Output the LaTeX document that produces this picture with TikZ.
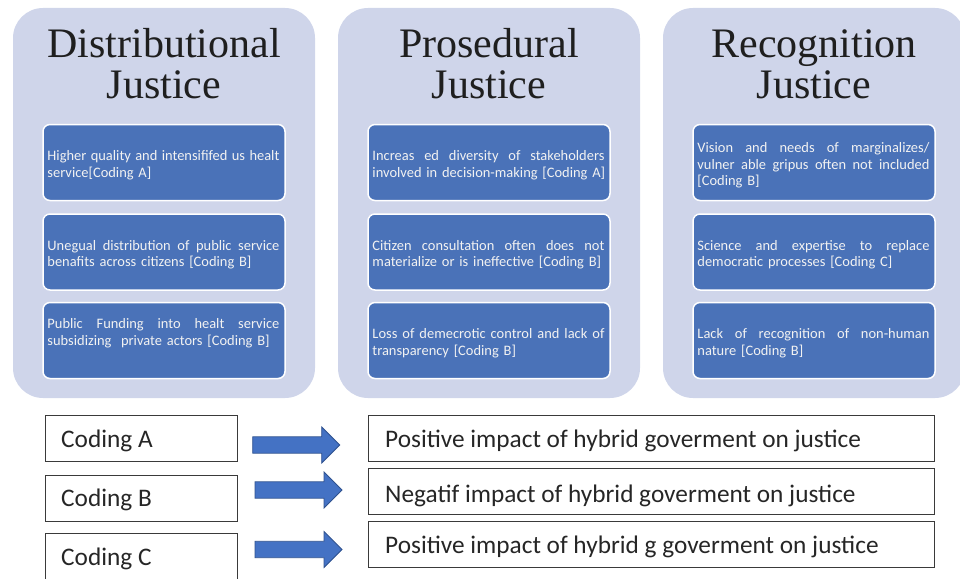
\documentclass[tikz,border=0pt]{standalone}
\usepackage{fontspec}
\setmainfont{Liberation Serif}
\newfontfamily\bodyfont{Carlito}
\definecolor{panelfill}{HTML}{CFD5EA}
\definecolor{itemfill}{HTML}{4A72B8}
\definecolor{arrowfill}{HTML}{4472C4}
\definecolor{arrowline}{HTML}{2F528F}
\definecolor{framegray}{HTML}{3A3A3A}
% a fully justified line inside an item text (ragged alignment fixes the
% interword space, so restore the font's stretchable space first)
\newcommand\jline[1]{\makebox[232pt][s]{\spaceskip=0pt\xspaceskip=0pt #1}}

\begin{document}
\begin{tikzpicture}[x=1pt,y=-1pt,
  panel/.style={fill=panelfill, rounded corners=30pt, minimum width=302pt,
    minimum height=390pt, inner sep=0},
  title/.style={anchor=base, inner sep=0, text=black!88,
    font=\fontsize{42}{42}\selectfont},
  item/.style={fill=itemfill, draw=white, line width=1.5pt, rounded corners=7pt,
    minimum width=242pt, minimum height=76pt, inner sep=0},
  itemtext/.style={anchor=north west, inner sep=0, text width=236pt, align=left,
    text=white!95!black, font=\bodyfont\fontsize{14.45}{16.5}\selectfont},
  codebox/.style={draw=framegray, line width=1pt, minimum width=192pt,
    minimum height=46pt, inner sep=0},
  impactbox/.style={draw=framegray, line width=1pt, minimum width=566pt,
    minimum height=46pt, inner sep=0},
  bigtext/.style={anchor=base west, inner sep=0, text=black!85,
    font=\bodyfont\fontsize{25.3}{30}\selectfont},
  blockarrow/.pic={\draw[fill=arrowfill, draw=arrowline, line width=0.8pt, line join=miter]
    (0,-8.2) -- (69,-8.2) -- (69,-18) -- (87,0) -- (69,18) -- (69,8.2) -- (0,8.2) -- cycle;}
]
\useasboundingbox (0,0) rectangle (960,578);
\clip (0,0) rectangle (960,578);

% ---------- three justice panels ----------
\node[panel] (p1) at (164,203) {};
\node[panel] (p2) at (489,203) {};
\node[panel] (p3) at (814,203) {};

\node[title] (t1a) at (164,57) {Distributional};
\node[title] (t1b) at (164,98) {Justice};
\node[title] (t2a) at (489,57) {Prosedural};
\node[title] (t2b) at (489,98) {Justice};
\node[title] (t3a) at (814,57) {Recognition};
\node[title] (t3b) at (814,98) {Justice};

% ---------- items of the distributional panel ----------
\node[item] (b11) at (164,162.5) {};
\node[item] (b12) at (164,252) {};
\node[item] (b13) at (164,340.5) {};
\node[itemtext] (x11) at ([xshift=5pt,yshift=-25pt]b11.north west)
  {\jline{\strut Higher quality and intensififed us healt}\\ service[Coding A]};
\node[itemtext] (x12) at ([xshift=5pt,yshift=-25pt]b12.north west)
  {\jline{\strut Unegual distribution of public service}\\ benafits across citizens [Coding B]};
\node[itemtext] (x13) at ([xshift=5pt,yshift=-15pt]b13.north west)
  {\jline{\strut Public Funding into healt service}\\ subsidizing\ \ private actors [Coding B]};

% ---------- items of the procedural panel ----------
\node[item] (b21) at (489,162.5) {};
\node[item] (b22) at (489,252) {};
\node[item] (b23) at (489,340.5) {};
\node[itemtext] (x21) at ([xshift=5pt,yshift=-25pt]b21.north west)
  {\jline{\strut Increas ed diversity of stakeholders}\\ involved in decision-making [Coding A]};
\node[itemtext] (x22) at ([xshift=5pt,yshift=-25pt]b22.north west)
  {\jline{\strut Citizen consultation often does not}\\ materialize or is ineffective [Coding B]};
\node[itemtext] (x23) at ([xshift=5pt,yshift=-25pt]b23.north west)
  {\jline{\strut Loss of demecrotic control and lack of}\\ transparency [Coding B]};

% ---------- items of the recognition panel ----------
\node[item] (b31) at (814,162.5) {};
\node[item] (b32) at (814,252) {};
\node[item] (b33) at (814,340.5) {};
\node[itemtext] (x31) at ([xshift=5pt,yshift=-17pt]b31.north west)
  {\jline{\strut Vision and needs of marginalizes/}\\
   \jline{vulner able gripus often not included}\\{}[Coding B]};
\node[itemtext] (x32) at ([xshift=5pt,yshift=-25pt]b32.north west)
  {\jline{\strut Science and expertise to replace}\\ democratic processes [Coding C]};
\node[itemtext] (x33) at ([xshift=5pt,yshift=-25pt]b33.north west)
  {\jline{\strut Lack of recognition of non-human}\\ nature [Coding B]};

% ---------- coding legend ----------
\node[codebox] (c1) at (141,438) {};
\node[codebox] (c2) at (141,498) {};
\node[codebox, minimum height=70pt] (c3) at (141,568) {};
\node[bigtext] (ct1) at (61,447.7) {Coding A};
\node[bigtext] (ct2) at (61,506.7) {Coding B};
\node[bigtext] (ct3) at (61,565) {Coding C};

\pic (a1) at (252.7,445) {blockarrow};
\pic (a2) at (255,490) {blockarrow};
\pic (a3) at (255,549.5) {blockarrow};

\node[impactbox] (i1) at (651,438) {};
\node[impactbox] (i2) at (651,491) {};
\node[impactbox] (i3) at (651,544) {};
\node[bigtext] (it1) at (385,447) {Positive impact of hybrid goverment on justice};
\node[bigtext] (it2) at (385,502) {Negatif impact of hybrid goverment on justice};
\node[bigtext] (it3) at (385,553) {Positive impact of hybrid g goverment on justice};
\end{tikzpicture}
\end{document}
